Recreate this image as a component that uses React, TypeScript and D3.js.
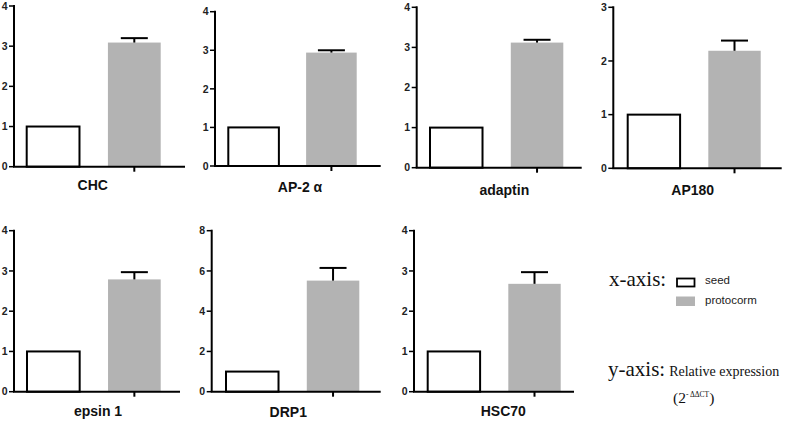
import React from "react";
import * as d3 from "d3";

const genes = ["CHC", "AP-2 α", "adaptin", "AP180", "epsin 1", "DRP1", "HSC70"];
const groups = ["seed", "protocorm"];
const seedValues = [1, 1, 1, 1, 1, 1, 1];
const protocormValues = [3.09, 2.94, 3.12, 2.19, 2.79, 5.52, 2.68];
const protocormErrors = [0.11, 0.06, 0.07, 0.19, 0.18, 0.63, 0.29];
const yMaxes = [4, 4, 4, 3, 4, 8, 4];
const yTickSteps = [1, 1, 1, 1, 1, 2, 1];

// layout per panel (pixel geometry, separate from data)
const layout = [
  { ax: 14, top: 6, bottom: 166.7, right: 185, b0: 26.7, b1: 160.7, lx: 92.7, ly: 190 },
  { ax: 215, top: 11.7, bottom: 166, right: 380.7, b0: 228.3, b1: 356.7, lx: 300, ly: 191.5 },
  { ax: 416.7, top: 7.3, bottom: 167.7, right: 581.7, b0: 430, b1: 563.3, lx: 504.3, ly: 194.5 },
  { ax: 613.3, top: 7.3, bottom: 168.3, right: 781.7, b0: 627.7, b1: 760.7, lx: 692.7, ly: 195 },
  { ax: 14, top: 230.7, bottom: 391.7, right: 180, b0: 27, b1: 160.7, lx: 98, ly: 416 },
  { ax: 211.7, top: 230.7, bottom: 391.7, right: 380.7, b0: 226, b1: 359.3, lx: 288.3, ly: 417 },
  { ax: 414, top: 230.7, bottom: 391.7, right: 574, b0: 427.7, b1: 560.7, lx: 503.3, ly: 416 },
];

const GRAY = "#b3b3b3";
const SANS = "'Liberation Sans', Arial, sans-serif";
const SERIF = "'Liberation Serif', 'Times New Roman', serif";

function Panel({ i }: { i: number }) {
  const L = layout[i];
  const y = d3.scaleLinear().domain([0, yMaxes[i]]).range([L.bottom, L.top]);
  const x = d3.scaleBand<string>().domain(groups).range([L.b0, L.b1]).paddingInner(0.35).paddingOuter(0);
  const ticks = d3.range(0, yMaxes[i] + 0.001, yTickSteps[i]);
  const values = [seedValues[i], protocormValues[i]];
  const bw = x.bandwidth();
  const pX = (x("protocorm") as number) + bw / 2;
  const errTop = y(protocormValues[i] + protocormErrors[i]);
  return (
    <g>
      <rect
        x={x("seed") as number}
        y={y(values[0])}
        width={bw}
        height={y(0) - y(values[0])}
        fill="#fff"
        stroke="#000"
        strokeWidth={2}
      />
      <rect
        x={x("protocorm") as number}
        y={y(values[1])}
        width={bw}
        height={y(0) - y(values[1])}
        fill={GRAY}
      />
      <line x1={pX} x2={pX} y1={y(values[1])} y2={errTop} stroke="#000" strokeWidth={2} />
      <line x1={pX - 13.5} x2={pX + 13.5} y1={errTop} y2={errTop} stroke="#000" strokeWidth={2} />
      <line x1={L.ax} x2={L.ax} y1={y(yMaxes[i]) - 1} y2={L.bottom} stroke="#000" strokeWidth={2} />
      {ticks.map((t) => (
        <g key={t}>
          <line x1={L.ax - 5} x2={L.ax} y1={y(t)} y2={y(t)} stroke="#000" strokeWidth={1.5} />
          <text
            x={L.ax - 6.5}
            y={y(t)}
            dy="0.36em"
            textAnchor="end"
            fontFamily={SANS}
            fontWeight="bold"
            fontSize={10.5}
            fill="#222"
          >
            {t}
          </text>
        </g>
      ))}
      <line x1={L.ax - 1} x2={L.right} y1={L.bottom} y2={L.bottom} stroke="#000" strokeWidth={2} />
      <line x1={pX} x2={pX} y1={L.bottom} y2={L.bottom + 5} stroke="#000" strokeWidth={2} />
      <text
        x={L.lx}
        y={L.ly}
        textAnchor="middle"
        fontFamily={SANS}
        fontWeight="bold"
        fontSize={14}
        fill="#111"
      >
        {genes[i]}
      </text>
    </g>
  );
}

export default function App() {
  return (
    <svg
      width={786}
      height={422}
      style={{ position: "absolute", left: 0, top: 0, background: "#fff", display: "block" }}
    >
      <rect x={0} y={0} width={786} height={422} fill="#fff" />
      {genes.map((g, i) => (
        <Panel key={g} i={i} />
      ))}
      <text x={609} y={286} fontFamily={SERIF} fontSize={21} fill="#111">
        x-axis:
      </text>
      <rect x={677} y={278.5} width={17.5} height={8} fill="#fff" stroke="#000" strokeWidth={1.8} />
      <text x={705} y={284} fontFamily={SANS} fontSize={11.5} fill="#222">
        {groups[0]}
      </text>
      <rect x={676} y={296.5} width={19} height={9.5} fill={GRAY} />
      <text x={705} y={304} fontFamily={SANS} fontSize={11.5} fill="#222">
        {groups[1]}
      </text>
      <text x={608} y={376} fontFamily={SERIF} fontSize={21} fill="#111">
        y-axis:
        <tspan fontSize={14} dx={4}>
          Relative expression
        </tspan>
      </text>
      <text x={673} y={403} fontFamily={SERIF} fontSize={15.5} fill="#111">
        (2
        <tspan fontSize={7.5} dy={-6.5}>
          - ΔΔCT
        </tspan>
        <tspan dy={6.5}>)</tspan>
      </text>
    </svg>
  );
}
